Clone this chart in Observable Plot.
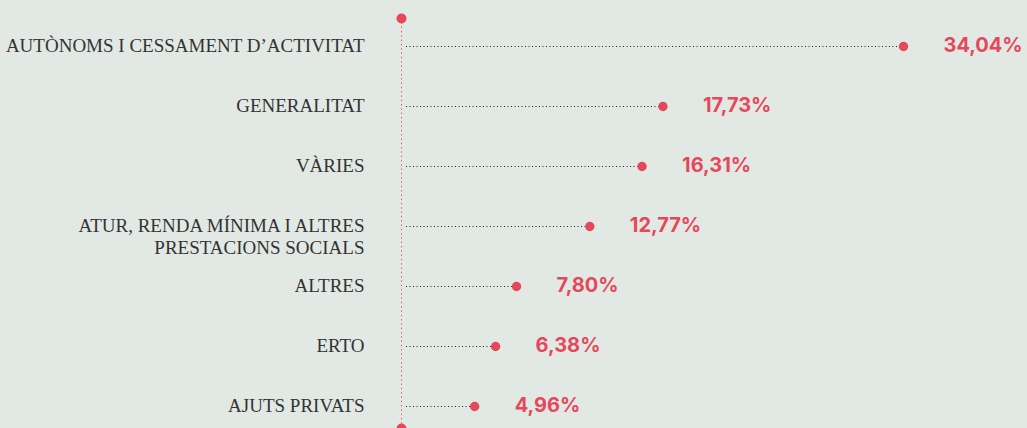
<!DOCTYPE html>
<html>
<head>
<meta charset="utf-8">
<script src="https://cdn.jsdelivr.net/npm/d3@7"></script>
<script src="https://cdn.jsdelivr.net/npm/@observablehq/plot@0.6"></script>
<style>
  html, body { margin: 0; padding: 0; background: #e2e8e4; }
  #chart svg { display: block; background: #e2e8e4; }
</style>
</head>
<body>
<div id="chart"></div>
<script>
const categories = [
  "AUTÒNOMS I CESSAMENT D’ACTIVITAT",
  "GENERALITAT",
  "VÀRIES",
  "ATUR, RENDA MÍNIMA I ALTRES\nPRESTACIONS SOCIALS",
  "ALTRES",
  "ERTO",
  "AJUTS PRIVATS"
];
const values = [34.04, 17.73, 16.31, 12.77, 7.80, 6.38, 4.96];
const valueLabels = ["34,04%", "17,73%", "16,31%", "12,77%", "7,80%", "6,38%", "4,96%"];

const data = categories.map((c, i) => ({category: c, value: values[i], label: valueLabels[i]}));
const red = "#e5485b";

const chart = Plot.plot({
  width: 1027,
  height: 428,
  marginLeft: 401,
  marginRight: 124,
  marginTop: 18,
  marginBottom: 0,
  style: {background: "#e2e8e4", overflow: "visible"},
  x: {domain: [0, d3.max(values)], axis: null},
  y: {type: "point", domain: categories, padding: 0.407, align: 0.55, axis: null},
  marks: [
    Plot.ruleX([0], {stroke: "#ee5a6c", strokeWidth: 1, strokeDasharray: "1.5,2.8"}),
    Plot.dot([0], {x: d => d, frameAnchor: "top", r: 5, fill: red, stroke: "none"}),
    Plot.dot([0], {x: d => d, frameAnchor: "bottom", r: 5, fill: red, stroke: "none"}),
    Plot.ruleY(data, {y: "category", x1: () => 0, x2: "value", insetLeft: 5, stroke: "#222", strokeWidth: 1, strokeDasharray: "1,2.5"}),
    Plot.dot(data, {x: "value", y: "category", r: 4.7, fill: red, stroke: "none"}),
    Plot.text(data, {
      x: () => 0, y: "category", text: "category",
      textAnchor: "end", lineAnchor: "top", dx: -37, dy: -11, lineHeight: 1.2,
      fontFamily: "'Liberation Serif', 'DejaVu Serif', serif", fontSize: 19, fill: "#333"
    }),
    Plot.text(data, {
      x: "value", y: "category", text: "label",
      textAnchor: "start", dx: 40, dy: -1,
      fontFamily: "Inter, 'Open Sans', sans-serif", fontWeight: 700, fontSize: 20, fill: red
    })
  ]
});
document.getElementById("chart").appendChild(chart);
</script>
</body>
</html>
